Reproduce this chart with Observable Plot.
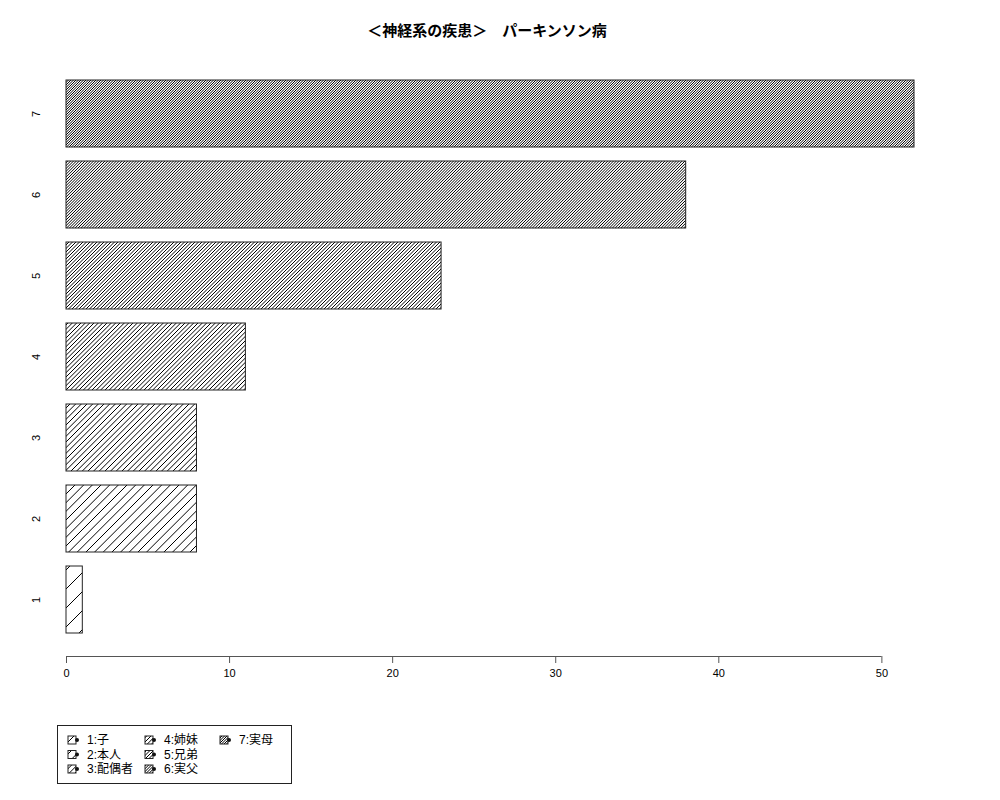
<!DOCTYPE html>
<html>
<head>
<meta charset="utf-8">
<script src="https://cdn.jsdelivr.net/npm/d3@7"></script>
<script src="https://cdn.jsdelivr.net/npm/@observablehq/plot@0.6"></script>
<style>
  body { margin: 0; background: white; width: 1000px; height: 800px; position: relative; overflow: hidden; }
  #title { position: absolute; left: 0; width: 974px; top: 22px; text-align: center; font-family: "Noto Sans CJK JP", sans-serif; font-weight: bold; font-size: 15px; line-height: 15px; color: #000; }
  #chart { position: absolute; left: 0; top: 0; }
  #legend { position: absolute; left: 57px; top: 725px; }
</style>
</head>
<body>
<div id="chart"></div>
<div id="title"></div>
<div id="legend"></div>
<script>
const titleText = "＜神経系の疾患＞　パーキンソン病";
const categories = ["1", "2", "3", "4", "5", "6", "7"];
const values = [1, 8, 8, 11, 23, 38, 52];
const legendLabels = ["1:子", "2:本人", "3:配偶者", "4:姉妹", "5:兄弟", "6:実父", "7:実母"];
const xTicks = [0, 10, 20, 30, 40, 50];
// hatch style per category: tile size (px) and number of lines per tile
const hatchTile = [19, 26, 17, 13, 7, 20, 5];
const hatchLines = [1, 3, 3, 3, 2, 7, 2];

document.getElementById("title").textContent = titleText;

const data = categories.map((c, i) => ({cat: c, value: values[i], fill: `url(#hatch${i})`}));

const plot = Plot.plot({
  width: 1000,
  height: 700,
  marginTop: 73,
  marginLeft: 66,
  marginRight: 86,
  marginBottom: 44,
  x: {domain: [0, 52]},
  y: {domain: [...categories].reverse(), paddingInner: 14 / 81, paddingOuter: 7 / 81, insetBottom: 16, axis: null},
  color: {type: "identity"},
  style: {fontFamily: "'Liberation Sans', Arial, sans-serif", fontSize: "11px", background: "white", color: "black"},
  marks: [
    Plot.barX(data, {x: "value", y: "cat", fill: "fill", stroke: "#222", strokeWidth: 1}),
    Plot.ruleY(["1"], {y: d => d, x1: 0, x2: 50, dy: 56.5, stroke: "#555", strokeWidth: 1}),
    Plot.axisX({ticks: xTicks, tickSize: 7, tickPadding: 6, stroke: "#555", label: null, tickFormat: d => String(d)}),
    Plot.text(categories, {y: d => d, text: d => d, frameAnchor: "left", dx: -30, rotate: -90, textAnchor: "middle", lineAnchor: "middle", fontSize: 11})
  ]
});

// hatch patterns: unrotated square tiles with "/" diagonal lines
const svgNS = "http://www.w3.org/2000/svg";
const defs = document.createElementNS(svgNS, "defs");
hatchTile.forEach((T, i) => {
  const n = hatchLines[i];
  const s = T / n;
  const pat = document.createElementNS(svgNS, "pattern");
  pat.setAttribute("id", `hatch${i}`);
  pat.setAttribute("patternUnits", "userSpaceOnUse");
  pat.setAttribute("x", 66);
  pat.setAttribute("y", 0);
  pat.setAttribute("width", T);
  pat.setAttribute("height", T);
  const bg = document.createElementNS(svgNS, "rect");
  bg.setAttribute("width", T); bg.setAttribute("height", T); bg.setAttribute("fill", "white");
  pat.appendChild(bg);
  for (let k = 0; k <= 2 * n; k++) {
    const c = k * s;
    const ln = document.createElementNS(svgNS, "line");
    ln.setAttribute("x1", c + 2); ln.setAttribute("y1", -2);
    ln.setAttribute("x2", c - T - 2); ln.setAttribute("y2", T + 2);
    ln.setAttribute("stroke", "#000"); ln.setAttribute("stroke-width", 1);
    pat.appendChild(ln);
  }
  defs.appendChild(pat);
});
plot.insertBefore(defs, plot.firstChild);
document.getElementById("chart").appendChild(plot);

// legend
const lg = d3.select("#legend").append("svg")
  .attr("width", 235).attr("height", 59)
  .style("font-family", "'Liberation Sans', 'Noto Sans CJK JP', sans-serif")
  .style("font-size", "12px");
lg.append("rect").attr("x", 0.5).attr("y", 0.5).attr("width", 234).attr("height", 58)
  .attr("fill", "white").attr("stroke", "#222");
const colX = [11, 88, 163];
const rowY = [15, 29.5, 44];
legendLabels.forEach((lab, i) => {
  const col = Math.floor(i / 3), row = i % 3;
  const x = colX[col], y = rowY[row];
  const g = lg.append("g");
  g.append("rect").attr("x", x).attr("y", y - 4).attr("width", 8).attr("height", 8)
    .attr("fill", `url(#hatch${i})`).attr("stroke", "#222");
  g.append("circle").attr("cx", x + 9).attr("cy", y).attr("r", 2).attr("fill", "#111");
  g.append("text").attr("x", x + 19).attr("y", y).attr("dy", "0.36em").text(lab);
});
</script>
</body>
</html>
